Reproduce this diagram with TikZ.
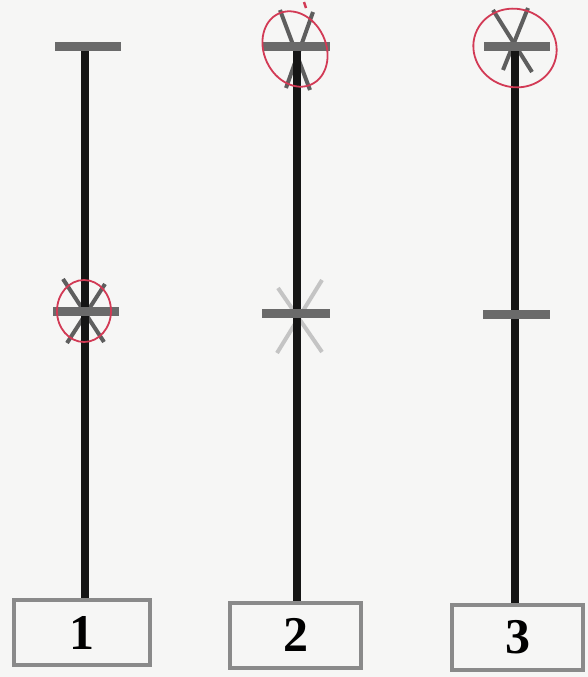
\documentclass[tikz,border=0pt]{standalone}
\usepackage{fontspec}
\setmainfont{Liberation Serif}
\definecolor{paper}{HTML}{F6F6F5}
\definecolor{barg}{HTML}{6A6A6A}
\definecolor{crossg}{HTML}{5E5E5E}
\definecolor{faintg}{HTML}{C4C4C4}
\definecolor{boxg}{HTML}{8A8A8A}
\definecolor{ringred}{HTML}{D23A55}
\definecolor{pole}{HTML}{151515}
\begin{document}
\begin{tikzpicture}[x=1pt,y=-1pt,
  polestyle/.style={line width=8pt, draw=pole},
  barstyle/.style={line width=9pt, draw=barg},
  crossstyle/.style={line width=4pt, draw=crossg},
  faintcross/.style={line width=4pt, draw=faintg},
  ring/.style={line width=1.8pt, draw=ringred},
  numbox/.style={draw=boxg, line width=4pt, fill=paper, minimum height=65pt, inner sep=0pt,
    font=\bfseries\fontsize{50}{50}\selectfont}]
\useasboundingbox[fill=paper] (0,0) rectangle (588,677);

% boxes
\node[numbox, minimum width=136pt] (b1) at (82,632.5) {1};
\node[numbox, minimum width=131pt] (b2) at (295.5,635) {2};
\node[numbox, minimum width=131pt] (b3) at (517.5,637) {3};

% coordinates
\coordinate (t1) at (85,47);
\coordinate (t2) at (297,47);
\coordinate (t3) at (515,47);

% crosses
\draw[crossstyle] (63,279) -- (104,342);
\draw[crossstyle] (105,284) -- (67,343);
\draw[crossstyle] (280,10) -- (310,90);
\draw[crossstyle] (313,12) -- (286,88);
\draw[crossstyle] (493,10) -- (532,72);
\draw[crossstyle] (528,8) -- (503,70);
\draw[faintcross] (278,288) -- (322,352);
\draw[faintcross] (322,280) -- (277,353);

% poles
\draw[polestyle] (t1) -- (t1 |- b1.north);
\draw[polestyle] (t2) -- (t2 |- b2.north);
\draw[polestyle] (t3) -- (t3 |- b3.north);

% bars
\draw[barstyle] (55,47) -- (121,47);
\draw[barstyle] (263,47) -- (330,47);
\draw[barstyle] (484,47) -- (550,47);
\draw[barstyle] (53,311) -- (119,311);
\draw[barstyle] (262,313) -- (330,313);
\draw[barstyle] (483,314) -- (550,314);

% red rings
\draw[ring] (84,311) ellipse [x radius=27pt, y radius=31pt];
\draw[ring, rotate around={25:(295,49)}] (295,49) ellipse [x radius=31pt, y radius=39pt];
\draw[ring, rotate around={-20:(515,48)}] (515,48) ellipse [x radius=42pt, y radius=39pt];
\draw[ring, line width=2.5pt] (304,2) -- (306,8);
\end{tikzpicture}
\end{document}
